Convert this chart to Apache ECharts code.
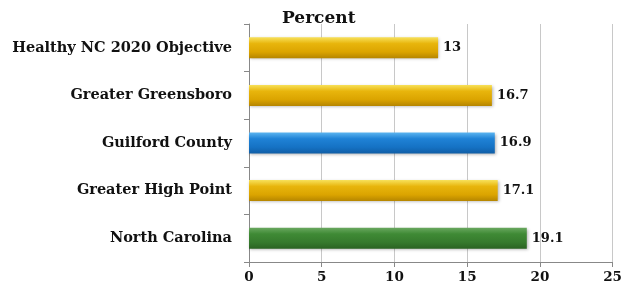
<!DOCTYPE html>
<html><head><meta charset="utf-8">
<script src="https://cdn.jsdelivr.net/npm/echarts@6/dist/echarts.min.js"></script>
<style>html,body{margin:0;padding:0;background:#fff}#c{width:625px;height:293px}</style>
</head><body><div id="c"></div>
<script>
const categories = ["North Carolina","Greater High Point","Guilford County","Greater Greensboro","Healthy NC 2020 Objective"];
const values = [19.1, 17.1, 16.9, 16.7, 13];
const barKinds = ["green","gold","blue","gold","gold"];
const xTicks = [0,5,10,15,20,25];

const grads = {
  gold: [["#f7e15a",0],["#e8b50c",0.3],["#dba400",0.7],["#b58500",1]],
  blue: [["#5ab4f0",0],["#1f82d6",0.3],["#1572c4",0.7],["#105ea6",1]],
  green:[["#6aa860",0],["#3f8a35",0.3],["#367a2d",0.7],["#2a6322",1]]
};
function grad(k){return new echarts.graphic.LinearGradient(0,0,0,1,grads[k].map(s=>({offset:s[1],color:s[0]})));}
const font = "'DejaVu Serif', 'Liberation Serif', serif";
const chart = echarts.init(document.getElementById('c'));
chart.setOption({
  animation:false,
  title:{text:"Percent",left:277,top:5,textStyle:{fontFamily:font,fontWeight:'bold',fontSize:17,color:'#111'}},
  grid:{left:249,right:11,top:24,bottom:31,containLabel:false},
  xAxis:{type:'value',min:0,max:25,interval:5,
    axisLine:{show:true,lineStyle:{color:'#888'}},
    axisTick:{show:true,length:5,lineStyle:{color:'#888'}},
    splitLine:{show:true,lineStyle:{color:'#c8c8c8'}},
    axisLabel:{fontFamily:font,fontWeight:'bold',fontSize:13.5,color:'#111',margin:8,
      formatter:v=>xTicks.includes(v)?String(v):''}},
  yAxis:{type:'category',data:categories,
    axisLine:{show:true,lineStyle:{color:'#888'}},
    axisTick:{show:true,length:5,lineStyle:{color:'#888'}},
    axisLabel:{fontFamily:font,fontWeight:'bold',fontSize:14.5,color:'#111',margin:17}},
  series:[{type:'bar',barWidth:21,
    data:values.map((v,i)=>({value:v,itemStyle:{color:grad(barKinds[i]),shadowColor:'rgba(0,0,0,0.3)',shadowBlur:3,shadowOffsetX:1,shadowOffsetY:1}})),
    label:{show:true,position:'right',distance:5,fontFamily:font,fontWeight:'bold',fontSize:13,color:'#111'}
  }]
});
</script></body></html>
